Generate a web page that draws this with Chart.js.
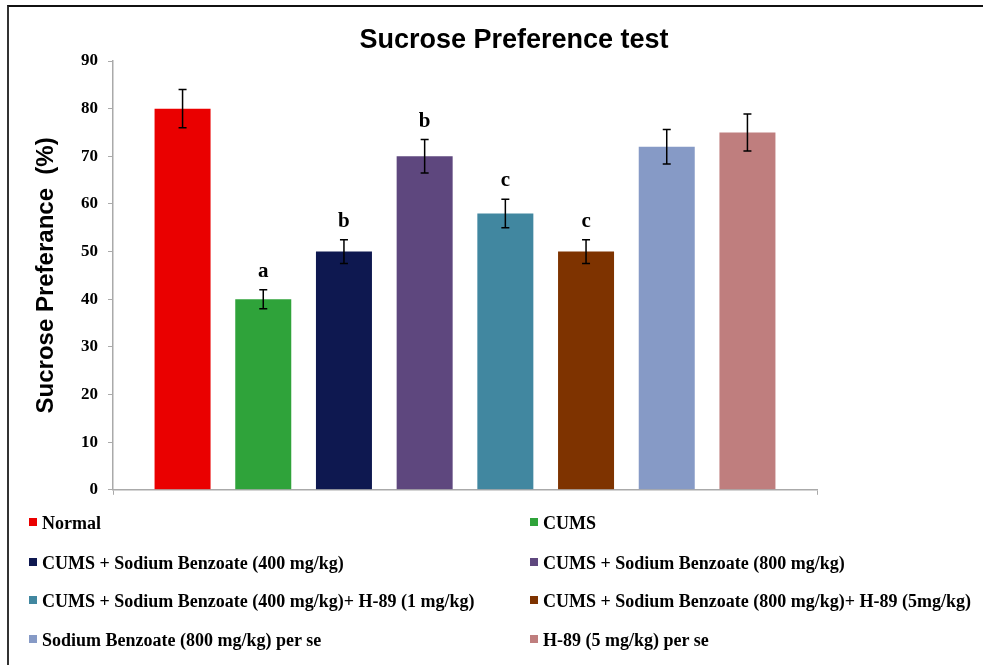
<!DOCTYPE html>
<html>
<head>
<meta charset="utf-8">
<script src="https://cdn.jsdelivr.net/npm/chart.js@4.4.1/dist/chart.umd.min.js"></script>
<style>
  body { margin: 0; background: #fff; }
  #wrap { position: relative; width: 983px; height: 665px; overflow: hidden; }
  #frame { position: absolute; left: 7px; top: 5px; right: -10px; bottom: -10px;
           border-top: 2px solid #111; border-left: 2px solid #333; }
  #chart { position: absolute; left: 0; top: 0; }
  #legend { position: absolute; left: 0; top: 0; width: 983px; height: 665px;
            font: bold 18px "Liberation Serif", "Times New Roman", serif; color: #000; }
  .item { position: absolute; white-space: nowrap; line-height: 20px; }
  .item i { display: inline-block; width: 8px; height: 8px; margin-right: 5px; vertical-align: 3px; }
</style>
</head>
<body>
<div id="wrap">
  <div id="frame"></div>
  <canvas id="chart" width="983" height="510"></canvas>
  <div id="legend"></div>
</div>
<script>
(function() {

    var groups = [
        'Normal',
        'CUMS',
        'CUMS + Sodium Benzoate (400 mg/kg)',
        'CUMS + Sodium Benzoate (800 mg/kg)',
        'CUMS + Sodium Benzoate (400 mg/kg)+ H-89 (1 mg/kg)',
        'CUMS + Sodium Benzoate (800 mg/kg)+ H-89 (5mg/kg)',
        'Sodium Benzoate (800 mg/kg) per se',
        'H-89 (5 mg/kg) per se'
    ];
    var means = [80, 40, 50, 70, 58, 50, 72, 75];
    var sem = [4, 2, 2.5, 3.5, 3, 2.5, 3.6, 3.9];
    var marks = ['', 'a', 'b', 'b', 'c', 'c', '', ''];
    var colors = ['#ea0000', '#2fa33a', '#0e1850', '#5e477e', '#4187a0', '#7e3300', '#869ac6', '#bf7e7e'];
    var yTicks = [0, 10, 20, 30, 40, 50, 60, 70, 80, 90];

    var datasets = groups.map(function(name, i) {
        return {
            label: name,
            data: [means[i]],
            backgroundColor: colors[i],
            categoryPercentage: 0.917,
            barPercentage: 0.694
        };
    });

    // error bars + significance letters
    var errorBars = {
        id: 'errorBars',
        afterDatasetsDraw: function(chart) {
            var ctx = chart.ctx;
            var y = chart.scales.y;
            ctx.save();
            ctx.strokeStyle = '#000';
            ctx.lineWidth = 1.5;
            chart.data.datasets.forEach(function(ds, i) {
                var bar = chart.getDatasetMeta(i).data[0];
                var top = y.getPixelForValue(means[i] + sem[i]);
                var bot = y.getPixelForValue(means[i] - sem[i]);
                ctx.beginPath();
                ctx.moveTo(bar.x, top); ctx.lineTo(bar.x, bot);
                ctx.moveTo(bar.x - 4, top); ctx.lineTo(bar.x + 4, top);
                ctx.moveTo(bar.x - 4, bot); ctx.lineTo(bar.x + 4, bot);
                ctx.stroke();
                if (marks[i]) {
                    ctx.fillStyle = '#000';
                    ctx.font = 'bold 21px "Liberation Serif", serif';
                    ctx.textAlign = 'center';
                    ctx.textBaseline = 'alphabetic';
                    ctx.fillText(marks[i], bar.x, top - 13);
                }
            });
            // chart title
            ctx.fillStyle = '#000';
            ctx.font = 'bold 27px "Liberation Sans", Arial, sans-serif';
            ctx.textAlign = 'center';
            ctx.textBaseline = 'middle';
            ctx.fillText('Sucrose Preference test', 514, 41);
            ctx.restore();
        }
    };

    var ctx = document.getElementById('chart').getContext('2d');

    var chart = new Chart(ctx, {
        type: 'bar',
        data: {
            labels: [''],
            datasets: datasets
        },
        options: {
            responsive: false,
            animation: false,
            layout: { padding: { left: 8, right: 166, top: 61, bottom: 0 } },
            plugins: {
                legend: { display: false },
                tooltip: { enabled: false }
            },
            scales: {
                x: {
                    grid: { drawOnChartArea: false, drawTicks: true, tickLength: 5, color: '#aaa' },
                    border: { color: '#aaa', width: 1.5 },
                    ticks: { display: false },
                    afterFit: function(s) { s.height = 10; }
                },
                y: {
                    min: 0,
                    max: 90,
                    afterBuildTicks: function(s) { s.ticks = yTicks.map(function(v) { return { value: v }; }); },
                    grid: { drawOnChartArea: false, drawTicks: true, tickLength: 5, color: '#aaa' },
                    border: { color: '#aaa', width: 1.5 },
                    ticks: {
                        padding: 10,
                        color: '#000',
                        font: { family: '"Liberation Serif", serif', size: 17, weight: 'bold' }
                    },
                    title: {
                        display: true,
                        text: 'Sucrose Preferance  (%)',
                        color: '#000',
                        padding: { top: 24, bottom: 0 },
                        font: { family: '"Liberation Sans", Arial, sans-serif', size: 24, weight: 'bold' }
                    },
                    afterFit: function(s) { s.width = 105; }
                }
            }
        },
        plugins: [errorBars]
    });

    // two-column legend, same order as the bars
    var legend = document.getElementById('legend');
    var rowsY = [513, 553, 591, 630];
    groups.forEach(function(name, i) {
        var el = document.createElement('div');
        el.className = 'item';
        el.style.left = (i % 2 === 0 ? 29 : 530) + 'px';
        el.style.top = rowsY[Math.floor(i / 2)] + 'px';
        el.innerHTML = '<i style="background:' + colors[i] + '"></i>';
        el.appendChild(document.createTextNode(name));
        legend.appendChild(el);
    });
})();
</script>
</body>
</html>
